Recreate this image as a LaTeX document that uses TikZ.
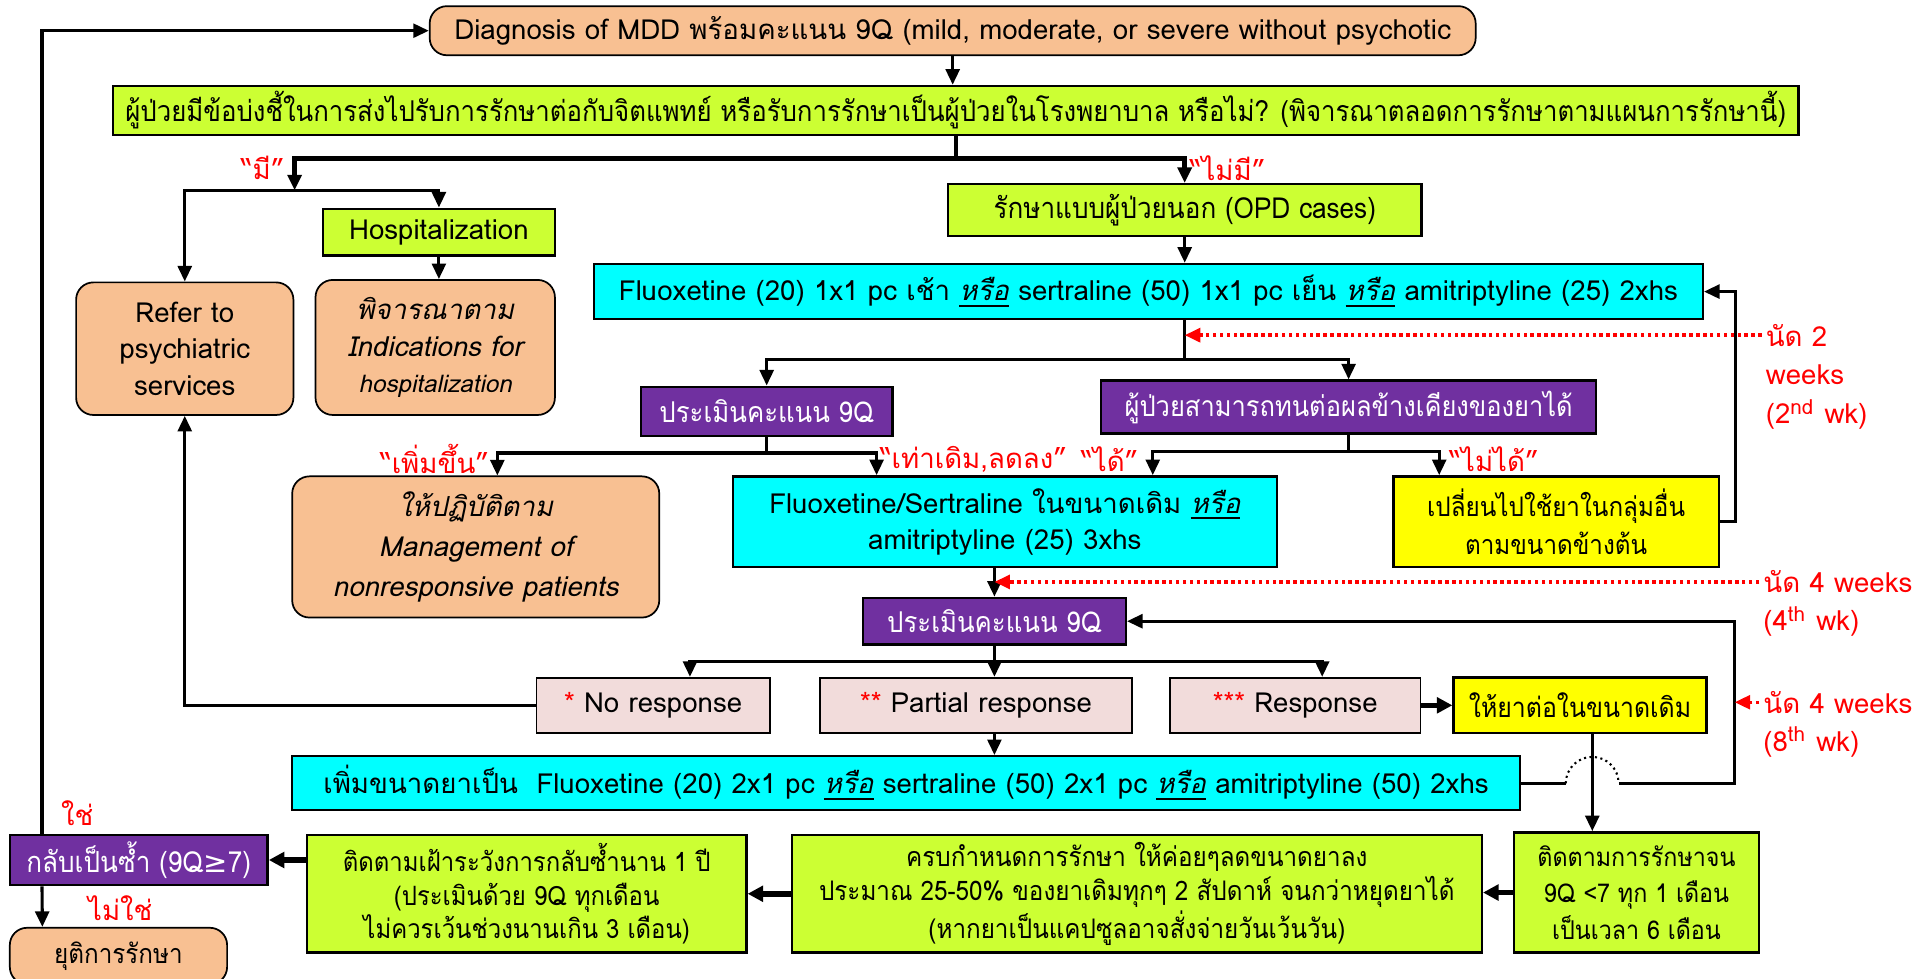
\documentclass[tikz,border=0pt]{standalone}
\usepackage{fontspec}
\setmainfont{Loma}[Script=Thai]
\newfontfamily\narrow{Loma}[Script=Thai, FakeStretch=0.9]
\newfontfamily\symfont{DejaVu Sans}
\usepackage{tikz}
\usepackage{xcolor}
\usetikzlibrary{arrows.meta,positioning,calc}
\definecolor{peach}{RGB}{248,192,146}
\definecolor{limeg}{RGB}{204,255,51}
\definecolor{aqua}{RGB}{0,255,255}
\definecolor{grape}{RGB}{112,48,160}
\definecolor{lemon}{RGB}{255,255,0}
\definecolor{blush}{RGB}{242,220,219}
\definecolor{alert}{RGB}{255,0,0}
\newcommand{\either}{\underline{\textit{หรือ}}}

\begin{document}
\begin{tikzpicture}[
        x=0.125mm, y=-0.125mm,
        font=\fontsize{8}{10.5}\selectfont,
        dims/.style 2 args={minimum width=#1*0.125mm, minimum height=#2*0.125mm},
        thin/.style={font=\narrow\fontsize{#1}{10}\selectfont},
        box/.style={rectangle, draw=black, line width=0.7pt, align=center, inner sep=1pt},
        rbox/.style={box, rounded corners=5pt, fill=peach, line width=0.5pt},
        gbox/.style={box, fill=limeg},
        cbox/.style={box, fill=aqua},
        pbox/.style={box, fill=grape, text=white},
        ybox/.style={box, fill=lemon},
        kbox/.style={box, fill=blush, line width=0.5pt},
        arrow/.style={-{Triangle[length=4.5pt,width=4pt]}, line width=0.9pt},
        fatarrow/.style={-{Triangle[length=4.5pt,width=4.5pt]}, line width=1.6pt},
        dotarrow/.style={-{Triangle[length=4.5pt,width=4pt]}, line width=1pt, alert, dash pattern=on 1pt off 1pt},
        note/.style={text=alert, inner sep=1pt}
    ]
        \useasboundingbox (0,0) rectangle (1568,797);

        \node[rbox, dims={852}{40}] (diag) at (776,25) {Diagnosis of MDD พร้อมคะแนน 9Q (mild, moderate, or severe without psychotic};
        \node[gbox, dims={1373}{40}, thin=8.3] (quest) at (778.5,90) {ผู้ป่วยมีข้อบ่งชี้ในการส่งไปรับการรักษาต่อกับจิตแพทย์ หรือรับการรักษาเป็นผู้ป่วยในโรงพยาบาล หรือไม่? (พิจารณาตลอดการรักษาตามแผนการรักษานี้)};
        \node[gbox, dims={189}{38}] (hosp) at (357.5,189) {Hospitalization};
        \node[rbox, dims={177}{108}] (refer) at (150.5,284) {Refer to\\psychiatric\\services};
        \node[rbox, dims={195}{110}, font=\fontsize{8}{10.5}\selectfont\itshape] (consider) at (354.5,283) {พิจารณาตาม\\Indications for\\{\fontsize{7}{10.5}\selectfont hospitalization}};
        \node[gbox, dims={386}{42}, thin=8.4] (opd) at (965,171) {รักษาแบบผู้ป่วยนอก (OPD cases)};
        \node[cbox, dims={903}{45}] (drug1) at (935.5,237.5) {Fluoxetine (20) 1x1 pc เช้า \either{} sertraline (50) 1x1 pc เย็น \either{} amitriptyline (25) 2xhs};
        \node[pbox, dims={205}{40}, thin=8.3] (eval1) at (624.5,335) {ประเมินคะแนน 9Q};
        \node[pbox, dims={403}{43}, thin=8.2] (tol) at (1098.5,331.5) {ผู้ป่วยสามารถทนต่อผลข้างเคียงของยาได้};
        \node[rbox, dims={299}{115}, font=\fontsize{8}{11.5}\selectfont\itshape] (manage) at (387.5,445.5) {ให้ปฏิบัติตาม\\Management of\\nonresponsive patients};
        \node[cbox, dims={443}{74}] (drug2) at (818.5,425) {Fluoxetine/Sertraline ในขนาดเดิม \either\\amitriptyline (25) 3xhs};
        \node[ybox, dims={265}{74}, font=\narrow\fontsize{7.8}{11}\selectfont] (switch) at (1267.5,425) {เปลี่ยนไปใช้ยาในกลุ่มอื่น\\ตามขนาดข้างต้น};
        \node[pbox, dims={214}{38}, thin=8.3] (eval2) at (810,506) {ประเมินคะแนน 9Q};
        \node[kbox, dims={190}{45}] (nores) at (532,574.5) {\textcolor{alert}{*} No response};
        \node[kbox, dims={254}{45}] (partial) at (795,574.5) {\textcolor{alert}{**} Partial response};
        \node[kbox, dims={204}{45}] (resp) at (1055,574.5) {\textcolor{alert}{***} Response};
        \node[ybox, dims={206}{45}, thin=8] (cont) at (1287,574.5) {ให้ยาต่อในขนาดเดิม};
        \node[cbox, dims={1000}{44}] (drug3) at (738,638) {เพิ่มขนาดยาเป็น\ \ Fluoxetine (20) 2x1 pc \either{} sertraline (50) 2x1 pc \either{} amitriptyline (50) 2xhs};
        \node[gbox, dims={200}{98}, font=\narrow\fontsize{7.5}{10.5}\selectfont] (follow) at (1333,727) {ติดตามการรักษาจน\\9Q <7 ทุก 1 เดือน\\เป็นเวลา 6 เดือน};
        \node[gbox, dims={562}{96}, font=\narrow\fontsize{7.8}{9.8}\selectfont] (taper) at (926,728) {ครบกำหนดการรักษา ให้ค่อยๆลดขนาดยาลง\\ประมาณ 25-50\% ของยาเดิมทุกๆ 2 สัปดาห์ จนกว่าหยุดยาได้\\(หากยาเป็นแคปซูลอาจสั่งจ่ายวันเว้นวัน)};
        \node[gbox, dims={358}{96}, font=\narrow\fontsize{7.7}{9.8}\selectfont] (watch) at (429,728) {ติดตามเฝ้าระวังการกลับซ้ำนาน 1 ปี\\(ประเมินด้วย 9Q ทุกเดือน\\ไม่ควรเว้นช่วงนานเกิน 3 เดือน)};
        \node[pbox, dims={210}{41}, thin=8.4] (relapse) at (113,700.5) {กลับเป็นซ้ำ (9Q{\symfont ≥}7)};
        \node[rbox, dims={177}{46}, anchor=north, thin=7.8] (stop) at (96.5,755) {ยุติการรักษา};

        \node[note] (lblyes) at (214,137) {“มี”};
        \node[note] (lblno) at (1000,137) {“ไม่มี”};
        \node[note] (lblup) at (354,374) {“เพิ่มขึ้น”};
        \node[note] (lblsame) at (793,374) {“เท่าเดิม,ลดลง”};
        \node[note] (lblok) at (904,374) {“ได้”};
        \node[note] (lblnot) at (1217,374) {“ไม่ได้”};
        \node[note] (lblrel) at (63,662) {ใช่};
        \node[note] (lblend) at (98,740) {ไม่ใช่};

        \node[note, anchor=west] (wk2) at (1435,273) {นัด 2};
        \node[note, anchor=north west, align=left, font=\fontsize{8}{11.5}\selectfont] (wk2b) at ([yshift=-1mm]wk2.south west) {weeks\\(2\textsuperscript{nd} wk)};
        \node[note, anchor=west] (wk4) at (1433,474) {นัด 4 weeks};
        \node[note, anchor=north west] (wk4b) at ([yshift=-0.5mm]wk4.south west) {(4\textsuperscript{th} wk)};
        \node[note, anchor=west] (wk8) at (1433,572) {นัด 4 weeks};
        \node[note, anchor=north west] (wk8b) at ([yshift=-0.5mm]wk8.south west) {(8\textsuperscript{th} wk)};

        \coordinate (yes) at (240,155);
        \coordinate (drop) at ([xshift=1.25mm]cont.south);
        \coordinate (loopx) at ([xshift=2.75mm]cont.east);
        \coordinate (hopa) at ([xshift=-2.7mm]drop |- drug3.east);
        \coordinate (hopb) at ([xshift=2.7mm]drop |- drug3.east);

        \draw[arrow] (diag.south) -- (diag.south |- quest.north);
        \draw[arrow, line width=1.3pt] (quest.south) -- ++(0,18) -| (yes);
        \draw[arrow, line width=1.3pt] (quest.south) -- ++(0,18) -| (opd.north);
        \draw[arrow] (yes) -| (refer.north);
        \draw[arrow] (yes) -| (hosp.north);
        \draw[arrow] (hosp.south) -- (hosp.south |- consider.north);
        \draw[arrow] (opd.south) -- (opd.south |- drug1.north);
        \draw[arrow] (opd.south |- drug1.south) -- ++(0,32) -| (eval1.north);
        \draw[arrow] (opd.south |- drug1.south) -- ++(0,32) -| (tol.north);
        \draw[arrow] (eval1.south) -- ++(0,13) -| ([xshift=2.2mm]manage.north);
        \draw[arrow] (eval1.south) -- ++(0,13) -| ([xshift=14.75mm]drug2.north west);
        \draw[arrow] (tol.south) -- ++(0,14) -| ([xshift=-12.75mm]drug2.north east);
        \draw[arrow] (tol.south) -- ++(0,14) -| ([xshift=-11.9mm]switch.north);
        \draw[arrow] (switch.east) -- ++(13,0) |- (drug1.east);
        \draw[arrow] (eval2.north |- drug2.south) -- (eval2.north);
        \draw[arrow] (eval2.south) -- ++(0,13) -| ([xshift=3.75mm]nores.north);
        \draw[arrow] (eval2.south) -- (eval2.south |- partial.north);
        \draw[arrow] (eval2.south) -- ++(0,13) -| ([xshift=2.75mm]resp.north);
        \draw[arrow] (nores.west) -| (refer.south);
        \draw[fatarrow] (resp.east) -- (cont.west);
        \draw[arrow] (eval2.south |- partial.south) -- (eval2.south |- drug3.north);
        \draw[arrow] (drop) -- (drop |- follow.north);
        \draw[line width=0.9pt] (drug3.east) -- (hopa);
        \draw[densely dotted, line width=0.6pt] (hopa) arc[start angle=180, end angle=360, radius=21.5];
        \draw[arrow] (hopb) -- (loopx |- drug3.east) |- (eval2.east);
        \draw[fatarrow] (follow.west) -- (follow.west -| taper.east);
        \draw[fatarrow] (taper.west) -- (taper.west -| watch.east);
        \draw[fatarrow] (relapse.east -| watch.west) -- (relapse.east);
        \draw[arrow] ([xshift=3.4mm]relapse.north west) |- (diag.west);
        \draw[arrow] ([xshift=3.4mm]relapse.south west) -- ([xshift=3.4mm]stop.north west);

        \draw[dotarrow] (wk2.west) -- (wk2.west -| opd.south);
        \draw[dotarrow] (wk4.west) -- (wk4.west -| eval2.north);
        \draw[dotarrow] (wk8.west) -- (wk8.west -| loopx);
\end{tikzpicture}
\end{document}
